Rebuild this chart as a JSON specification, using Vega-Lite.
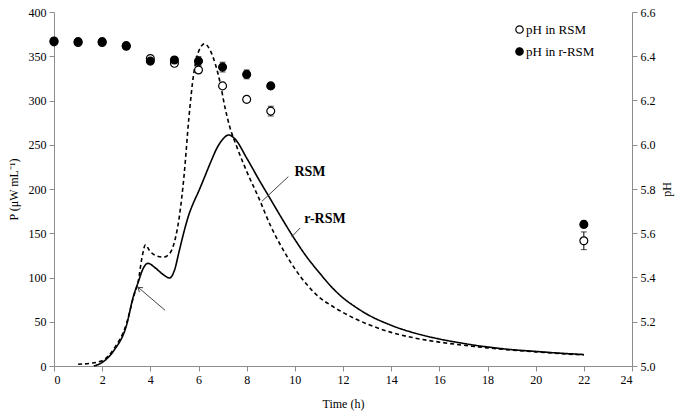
{
  "$schema": "https://vega.github.io/schema/vega-lite/v6.json",
  "autosize": {"type": "none"},
  "padding": {"left": 54, "top": 12, "right": 48, "bottom": 49},
  "width": 578,
  "height": 354,
  "background": "white",
  "config": {
    "view": {"stroke": null},
    "font": "Liberation Serif",
    "axis": {
      "labelFont": "Liberation Serif",
      "titleFont": "Liberation Serif",
      "labelFontSize": 12,
      "titleFontSize": 12,
      "labelColor": "#000",
      "titleColor": "#000",
      "titleFontWeight": "normal",
      "domainColor": "#8c8c8c",
      "tickColor": "#8c8c8c",
      "tickSize": 5,
      "grid": false
    },
    "legend": {"labelFont": "Liberation Serif", "labelFontSize": 13, "labelColor": "#000"}
  },
  "datasets": {
    "power": [
      {"t": 1.0, "P": 2, "medium": "RSM"},
      {"t": 1.5, "P": 3, "medium": "RSM"},
      {"t": 2.0, "P": 6, "medium": "RSM"},
      {"t": 2.5, "P": 20, "medium": "RSM"},
      {"t": 3.0, "P": 47, "medium": "RSM"},
      {"t": 3.3, "P": 78, "medium": "RSM"},
      {"t": 3.5, "P": 96, "medium": "RSM"},
      {"t": 3.65, "P": 122, "medium": "RSM"},
      {"t": 3.8, "P": 137, "medium": "RSM"},
      {"t": 3.95, "P": 131, "medium": "RSM"},
      {"t": 4.2, "P": 125, "medium": "RSM"},
      {"t": 4.55, "P": 123, "medium": "RSM"},
      {"t": 4.8, "P": 127, "medium": "RSM"},
      {"t": 5.0, "P": 140, "medium": "RSM"},
      {"t": 5.2, "P": 168, "medium": "RSM"},
      {"t": 5.4, "P": 215, "medium": "RSM"},
      {"t": 5.6, "P": 280, "medium": "RSM"},
      {"t": 5.8, "P": 330, "medium": "RSM"},
      {"t": 6.0, "P": 355, "medium": "RSM"},
      {"t": 6.25, "P": 364, "medium": "RSM"},
      {"t": 6.48, "P": 357, "medium": "RSM"},
      {"t": 6.7, "P": 341, "medium": "RSM"},
      {"t": 6.9, "P": 320, "medium": "RSM"},
      {"t": 7.1, "P": 292, "medium": "RSM"},
      {"t": 7.3, "P": 270, "medium": "RSM"},
      {"t": 7.6, "P": 247, "medium": "RSM"},
      {"t": 8.0, "P": 220, "medium": "RSM"},
      {"t": 8.5, "P": 190, "medium": "RSM"},
      {"t": 9.0, "P": 158, "medium": "RSM"},
      {"t": 9.5, "P": 132, "medium": "RSM"},
      {"t": 10.0, "P": 110, "medium": "RSM"},
      {"t": 10.5, "P": 92, "medium": "RSM"},
      {"t": 11.0, "P": 78, "medium": "RSM"},
      {"t": 11.5, "P": 68.5, "medium": "RSM"},
      {"t": 12.0, "P": 60.5, "medium": "RSM"},
      {"t": 12.5, "P": 53.5, "medium": "RSM"},
      {"t": 13.0, "P": 47.5, "medium": "RSM"},
      {"t": 14.0, "P": 38, "medium": "RSM"},
      {"t": 15.0, "P": 31.5, "medium": "RSM"},
      {"t": 16.0, "P": 27, "medium": "RSM"},
      {"t": 17.0, "P": 23.5, "medium": "RSM"},
      {"t": 18.0, "P": 20.5, "medium": "RSM"},
      {"t": 19.0, "P": 18, "medium": "RSM"},
      {"t": 20.0, "P": 16, "medium": "RSM"},
      {"t": 21.0, "P": 14, "medium": "RSM"},
      {"t": 22.0, "P": 12.5, "medium": "RSM"},
      {"t": 1.65, "P": 0, "medium": "r-RSM"},
      {"t": 2.0, "P": 4, "medium": "r-RSM"},
      {"t": 2.5, "P": 18, "medium": "r-RSM"},
      {"t": 3.0, "P": 45, "medium": "r-RSM"},
      {"t": 3.3, "P": 79, "medium": "r-RSM"},
      {"t": 3.5, "P": 95, "medium": "r-RSM"},
      {"t": 3.7, "P": 110, "medium": "r-RSM"},
      {"t": 3.9, "P": 116, "medium": "r-RSM"},
      {"t": 4.2, "P": 111, "medium": "r-RSM"},
      {"t": 4.5, "P": 104, "medium": "r-RSM"},
      {"t": 4.8, "P": 99.5, "medium": "r-RSM"},
      {"t": 5.0, "P": 108, "medium": "r-RSM"},
      {"t": 5.2, "P": 130, "medium": "r-RSM"},
      {"t": 5.4, "P": 152, "medium": "r-RSM"},
      {"t": 5.6, "P": 171, "medium": "r-RSM"},
      {"t": 5.8, "P": 185, "medium": "r-RSM"},
      {"t": 6.0, "P": 197, "medium": "r-RSM"},
      {"t": 6.2, "P": 210, "medium": "r-RSM"},
      {"t": 6.5, "P": 230, "medium": "r-RSM"},
      {"t": 6.8, "P": 248, "medium": "r-RSM"},
      {"t": 7.0, "P": 256, "medium": "r-RSM"},
      {"t": 7.25, "P": 261, "medium": "r-RSM"},
      {"t": 7.5, "P": 257, "medium": "r-RSM"},
      {"t": 8.0, "P": 235, "medium": "r-RSM"},
      {"t": 8.5, "P": 211, "medium": "r-RSM"},
      {"t": 9.0, "P": 188, "medium": "r-RSM"},
      {"t": 9.5, "P": 165, "medium": "r-RSM"},
      {"t": 10.0, "P": 143, "medium": "r-RSM"},
      {"t": 10.5, "P": 123, "medium": "r-RSM"},
      {"t": 11.0, "P": 106, "medium": "r-RSM"},
      {"t": 11.5, "P": 90, "medium": "r-RSM"},
      {"t": 12.0, "P": 77, "medium": "r-RSM"},
      {"t": 12.5, "P": 67, "medium": "r-RSM"},
      {"t": 13.0, "P": 58.5, "medium": "r-RSM"},
      {"t": 14.0, "P": 46, "medium": "r-RSM"},
      {"t": 15.0, "P": 37, "medium": "r-RSM"},
      {"t": 16.0, "P": 30.5, "medium": "r-RSM"},
      {"t": 17.0, "P": 25.5, "medium": "r-RSM"},
      {"t": 18.0, "P": 21.5, "medium": "r-RSM"},
      {"t": 19.0, "P": 18.5, "medium": "r-RSM"},
      {"t": 20.0, "P": 16.5, "medium": "r-RSM"},
      {"t": 21.0, "P": 14.5, "medium": "r-RSM"},
      {"t": 22.0, "P": 13, "medium": "r-RSM"}
    ],
    "ph": [
      {"t": 0, "pH": 6.465, "err": 0.005, "series": "pH in RSM"},
      {"t": 1, "pH": 6.462, "err": 0.005, "series": "pH in RSM"},
      {"t": 2, "pH": 6.462, "err": 0.005, "series": "pH in RSM"},
      {"t": 3, "pH": 6.445, "err": 0.005, "series": "pH in RSM"},
      {"t": 4, "pH": 6.39, "err": 0.01, "series": "pH in RSM"},
      {"t": 5, "pH": 6.368, "err": 0.01, "series": "pH in RSM"},
      {"t": 6, "pH": 6.338, "err": 0.012, "series": "pH in RSM"},
      {"t": 7, "pH": 6.266, "err": 0.012, "series": "pH in RSM"},
      {"t": 8, "pH": 6.205, "err": 0.012, "series": "pH in RSM"},
      {"t": 9, "pH": 6.152, "err": 0.022, "series": "pH in RSM"},
      {"t": 22, "pH": 5.566, "err": 0.04, "series": "pH in RSM"},
      {"t": 0, "pH": 6.469, "err": 0.005, "series": "pH in r-RSM"},
      {"t": 1, "pH": 6.466, "err": 0.005, "series": "pH in r-RSM"},
      {"t": 2, "pH": 6.466, "err": 0.005, "series": "pH in r-RSM"},
      {"t": 3, "pH": 6.448, "err": 0.005, "series": "pH in r-RSM"},
      {"t": 4, "pH": 6.378, "err": 0.008, "series": "pH in r-RSM"},
      {"t": 5, "pH": 6.383, "err": 0.008, "series": "pH in r-RSM"},
      {"t": 6, "pH": 6.378, "err": 0.02, "series": "pH in r-RSM"},
      {"t": 7, "pH": 6.351, "err": 0.022, "series": "pH in r-RSM"},
      {"t": 8, "pH": 6.318, "err": 0.02, "series": "pH in r-RSM"},
      {"t": 9, "pH": 6.266, "err": 0.008, "series": "pH in r-RSM"},
      {"t": 22, "pH": 5.64, "err": 0.015, "series": "pH in r-RSM"}
    ],
    "labels": [
      {"t": 10.63, "P": 219, "label": "RSM"},
      {"t": 11.25, "P": 166, "label": "r-RSM"}
    ],
    "leaders": [
      {"t": 9.73, "P": 214, "t2": 8.63, "P2": 186, "kind": "leader"},
      {"t": 10.22, "P": 156, "t2": 9.87, "P2": 146, "kind": "leader"},
      {"t": 4.61, "P": 63, "t2": 3.49, "P2": 89, "kind": "arrow"}
    ]
  },
  "layer": [
    {
      "layer": [
        {
          "data": {"name": "power"},
          "mark": {"type": "line", "interpolate": "monotone", "color": "black", "strokeWidth": 1.6},
          "encoding": {
            "x": {
              "field": "t", "type": "quantitative",
              "scale": {"domain": [0, 24], "nice": false},
              "axis": {"values": [0, 2, 4, 6, 8, 10, 12, 14, 16, 18, 20, 22, 24], "title": "Time  (h)", "titlePadding": 13, "labelPadding": 3}
            },
            "y": {
              "field": "P", "type": "quantitative",
              "scale": {"domain": [0, 400], "nice": false},
              "axis": {"orient": "left", "values": [0, 50, 100, 150, 200, 250, 300, 350, 400], "title": "P (μW mL⁻¹)", "titlePadding": 8, "labelPadding": 3}
            },
            "detail": {"field": "medium"},
            "strokeDash": {
              "field": "medium", "type": "nominal",
              "scale": {"domain": ["RSM", "r-RSM"], "range": [[4, 3], [1, 0]]},
              "legend": null
            }
          }
        },
        {
          "data": {"name": "leaders"},
          "mark": {"type": "rule", "color": "#444", "strokeWidth": 1},
          "encoding": {
            "x": {"field": "t", "type": "quantitative"},
            "y": {"field": "P", "type": "quantitative"},
            "x2": {"field": "t2"},
            "y2": {"field": "P2"}
          }
        },
        {
          "data": {"name": "leaders"},
          "transform": [{"filter": "datum.kind == 'arrow'"}],
          "mark": {"type": "point", "shape": "M-1,-0.7L0,0L-1,0.7", "filled": false, "stroke": "#444", "strokeWidth": 1, "size": 70, "angle": 220, "opacity": 1},
          "encoding": {
            "x": {"field": "t2", "type": "quantitative"},
            "y": {"field": "P2", "type": "quantitative"}
          }
        },
        {
          "data": {"name": "labels"},
          "mark": {"type": "text", "fontWeight": "bold", "fontSize": 14, "font": "Liberation Serif", "color": "black"},
          "encoding": {
            "x": {"field": "t", "type": "quantitative"},
            "y": {"field": "P", "type": "quantitative"},
            "text": {"field": "label"}
          }
        }
      ]
    },
    {
      "data": {"name": "ph"},
      "layer": [
        {
          "mark": {"type": "errorbar", "ticks": {"size": 6, "color": "black"}, "color": "black", "orient": "vertical"},
          "transform": [
            {"filter": "datum.err > 0.006"},
            {"calculate": "datum.pH - datum.err", "as": "lo"},
            {"calculate": "datum.pH + datum.err", "as": "hi"}
          ],
          "encoding": {
            "x": {"field": "t", "type": "quantitative"},
            "y": {"field": "lo", "type": "quantitative", "title": "pH", "scale": {"domain": [5.0, 6.6], "nice": false}},
            "y2": {"field": "hi"}
          }
        },
        {
          "mark": {"type": "point", "filled": true, "stroke": "black", "strokeWidth": 1.2, "size": 62, "opacity": 1},
          "encoding": {
            "x": {"field": "t", "type": "quantitative"},
            "y": {
              "field": "pH", "type": "quantitative", "title": "pH",
              "scale": {"domain": [5.0, 6.6], "nice": false},
              "axis": {"orient": "right", "values": [5.0, 5.2, 5.4, 5.6, 5.8, 6.0, 6.2, 6.4, 6.6], "format": ".1f", "title": "pH", "titleAngle": 270, "titleBaseline": "top", "titlePadding": 6, "labelPadding": 3}
            },
            "fill": {
              "field": "series", "type": "nominal",
              "scale": {"domain": ["pH in RSM", "pH in r-RSM"], "range": ["white", "black"]},
              "legend": {
                "title": null, "orient": "none", "legendX": 459, "legendY": 11,
                "symbolType": "circle", "symbolSize": 55, "symbolStrokeColor": "black", "symbolStrokeWidth": 1.2,
                "rowPadding": 8, "labelOffset": 0
              }
            },
            "order": {"field": "series", "sort": "ascending"}
          }
        }
      ]
    }
  ],
  "resolve": {"scale": {"y": "independent"}, "axis": {"y": "independent"}}
}
